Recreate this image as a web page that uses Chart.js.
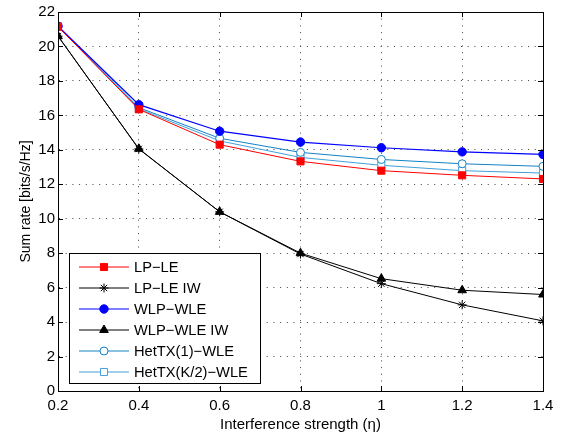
<!DOCTYPE html>
<html>
<head>
<meta charset="utf-8">
<script src="https://cdn.jsdelivr.net/npm/chart.js@4"></script>
<style>
html,body{margin:0;padding:0;background:#fff;}
canvas{display:block;}
</style>
</head>
<body>
<canvas id="c" width="564" height="432"></canvas>
<script>
const xValues = [0.2, 0.4, 0.6, 0.8, 1.0, 1.2, 1.4];
const xTickLabels = ['0.2', '0.4', '0.6', '0.8', '1', '1.2', '1.4'];
const yTickValues = [0, 2, 4, 6, 8, 10, 12, 14, 16, 18, 20, 22];
const seriesNames = ['LP\u2212LE', 'LP\u2212LE IW', 'WLP\u2212WLE', 'WLP\u2212WLE IW', 'HetTX(1)\u2212WLE', 'HetTX(K/2)\u2212WLE'];
const lpLe      = [21.15, 16.35, 14.30, 13.33, 12.79, 12.52, 12.31];
const lpLeIw    = [20.60, 14.05, 10.40, 7.95, 6.23, 5.00, 4.07];
const wlpWle    = [21.17, 16.62, 15.08, 14.45, 14.12, 13.88, 13.73];
const wlpWleIw  = [20.60, 14.06, 10.40, 8.00, 6.52, 5.85, 5.60];
const hetTx1    = [21.17, 16.45, 14.67, 13.85, 13.44, 13.19, 13.04];
const hetTxK2   = [21.17, 16.38, 14.52, 13.56, 13.10, 12.79, 12.65];

const FONT = 'Liberation Sans, Arial, Helvetica, sans-serif';
const pts = arr => arr.map((v, i) => ({x: xValues[i], y: v}));

const styles = [
  {color: '#ff0000', style: 'rect', r: 5, fill: '#ff0000', lw: 1},
  {color: '#000000', style: 'star', r: 4.5, fill: '#000000', lw: 1},
  {color: '#0000ff', style: 'circle', r: 4.2, fill: '#0000ff', lw: 1.2},
  {color: '#000000', style: 'triangle', r: 5, fill: '#000000', lw: 1},
  {color: '#1282c4', style: 'circle', r: 4, fill: '#ffffff', lw: 1},
  {color: '#40a0d8', style: 'rect', r: 5, fill: '#ffffff', lw: 1}
];
const seriesData = [lpLe, lpLeIw, wlpWle, wlpWleIw, hetTx1, hetTxK2];

const datasets = seriesData.map((arr, i) => ({
  label: seriesNames[i],
  data: pts(arr),
  borderColor: styles[i].color,
  backgroundColor: styles[i].fill,
  borderWidth: styles[i].lw,
  pointStyle: styles[i].style,
  pointRadius: styles[i].r,
  pointBorderColor: styles[i].color,
  pointBackgroundColor: styles[i].fill,
  pointBorderWidth: 1,
  tension: 0,
  fill: false
}));

const framePlugin = {
  id: 'frame',
  afterDatasetsDraw(chart) {
    const ctx = chart.ctx;
    const a = chart.chartArea;
    const xs = chart.scales.x, ys = chart.scales.y;
    ctx.save();
    ctx.strokeStyle = '#000';
    ctx.lineWidth = 1;
    ctx.setLineDash([]);
    // inward ticks
    ctx.beginPath();
    yTickValues.forEach(v => {
      const y = Math.round(ys.getPixelForValue(v)) + 0.5;
      ctx.moveTo(a.left, y); ctx.lineTo(a.left + 5, y);
      ctx.moveTo(a.right, y); ctx.lineTo(a.right - 5, y);
    });
    xValues.forEach(v => {
      const x = Math.round(xs.getPixelForValue(v)) + 0.5;
      ctx.moveTo(x, a.bottom); ctx.lineTo(x, a.bottom - 5);
      ctx.moveTo(x, a.top); ctx.lineTo(x, a.top + 5);
    });
    ctx.stroke();
    ctx.strokeRect(Math.round(a.left) + 0.5, Math.round(a.top) + 0.5,
                   Math.round(a.right - a.left), Math.round(a.bottom - a.top));
    // legend
    const bx = 69.5, by = 253.5, bw = 191, bh = 130;
    ctx.fillStyle = '#fff';
    ctx.fillRect(bx, by, bw, bh);
    ctx.strokeRect(bx, by, bw, bh);
    ctx.font = '14.7px ' + FONT;
    ctx.textBaseline = 'middle';
    ctx.textAlign = 'left';
    seriesNames.forEach((name, i) => {
      const y = 267 + i * 21;
      const s = styles[i];
      ctx.beginPath();
      ctx.strokeStyle = s.color;
      ctx.lineWidth = s.lw;
      ctx.moveTo(79, y); ctx.lineTo(129, y);
      ctx.stroke();
      ctx.fillStyle = s.fill;
      ctx.strokeStyle = s.color;
      ctx.lineWidth = 1;
      Chart.helpers.drawPoint(ctx, {pointStyle: s.style, radius: s.r, borderWidth: 1}, 104, y);
      ctx.fillStyle = '#000';
      ctx.fillText(name, 134, y + 0.5);
    });
    ctx.restore();
  }
};

new Chart(document.getElementById('c'), {
  type: 'line',
  data: {datasets},
  options: {
    responsive: false,
    animation: false,
    devicePixelRatio: 1,
    layout: {padding: {top: 10, right: 21, left: 0, bottom: 0}},
    plugins: {legend: {display: false}, tooltip: {enabled: false}},
    scales: {
      x: {
        type: 'linear',
        min: 0.2, max: 1.4,
        afterBuildTicks: s => { s.ticks = xValues.map(v => ({value: v})); },
        afterFit: s => { s.height = 41; },
        ticks: {
          callback: (v, i) => xTickLabels[i],
          color: '#000', font: {family: FONT, size: 15}, padding: 6, maxRotation: 0, autoSkip: false
        },
        grid: {color: '#444', lineWidth: 1, drawTicks: false},
        border: {display: true, color: '#000', dash: [1, 5.7]},
        title: {display: true, text: 'Interference strength (\u03b7)', color: '#000',
                font: {family: FONT, size: 15}, padding: {top: 0, bottom: -2}}
      },
      y: {
        type: 'linear',
        min: 0, max: 22,
        afterBuildTicks: s => { s.ticks = yTickValues.map(v => ({value: v})); },
        afterFit: s => { s.width = 58; },
        ticks: {color: '#000', font: {family: FONT, size: 15}, padding: 3, autoSkip: false},
        grid: {color: '#444', lineWidth: 1, drawTicks: false},
        border: {display: true, color: '#000', dash: [1, 5.7]},
        title: {display: true, text: 'Sum rate [bits/s/Hz]', color: '#000',
                font: {family: FONT, size: 14}, padding: {top: 18, bottom: 0}}
      }
    }
  },
  plugins: [framePlugin]
});
</script>
</body>
</html>
